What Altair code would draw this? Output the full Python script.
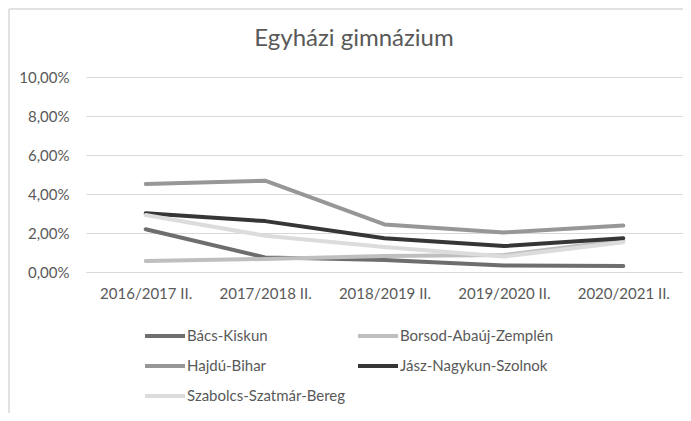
import altair as alt
import pandas as pd

categories = ["2016/2017 II.", "2017/2018 II.", "2018/2019 II.", "2019/2020 II.", "2020/2021 II."]
series_names = ["Bács-Kiskun", "Borsod-Abaúj-Zemplén", "Hajdú-Bihar",
                "Jász-Nagykun-Szolnok", "Szabolcs-Szatmár-Bereg"]
bacs = [0.0219, 0.0075, 0.0062, 0.0033, 0.0031]
borsod = [0.0056, 0.0067, 0.0082, 0.0087, 0.0163]
hajdu = [0.0451, 0.0468, 0.0244, 0.0203, 0.0238]
jasz = [0.0301, 0.0261, 0.0173, 0.0133, 0.0173]
szabolcs = [0.0292, 0.0186, 0.0128, 0.0079, 0.0152]
colors = ["#6e6e6e", "#bfbfbf", "#979797", "#363636", "#dcdcdc"]
title_text = "Egyházi gimnázium"

rows = []
for name, vals in zip(series_names, [bacs, borsod, hajdu, jasz, szabolcs]):
    for c, v in zip(categories, vals):
        rows.append({"Megye": name, "Tanév": c, "Arány": v, "ord": series_names.index(name)})
df = pd.DataFrame(rows)

FONT = "Lato"
TXT = "#595959"
GRID = "#d9d9d9"
W, H = 597, 195
PAD = {"left": 78, "top": 69, "right": 0, "bottom": 141}

lines = alt.Chart(df).mark_line(strokeWidth=4, strokeCap="round", strokeJoin="round").encode(
    x=alt.X("Tanév:N", sort=categories, scale=alt.Scale(padding=0.5),
            axis=alt.Axis(title=None, labelAngle=0, ticks=False, domain=True, domainColor=GRID,
                          labelFont=FONT, labelFontSize=15, labelColor=TXT, labelPadding=14)),
    y=alt.Y("Arány:Q", scale=alt.Scale(domain=[0, 0.1], nice=False),
            axis=alt.Axis(title=None, values=[0, 0.02, 0.04, 0.06, 0.08, 0.1],
                          labelExpr="replace(format(datum.value, '.2%'), '.', ',')",
                          grid=True, gridColor=GRID, domain=False, ticks=False,
                          labelFont=FONT, labelFontSize=15, labelColor=TXT, labelPadding=17)),
    color=alt.Color("Megye:N", sort=series_names,
                    scale=alt.Scale(domain=series_names, range=colors),
                    legend=alt.Legend(title=None, orient="none", legendX=57, legendY=237,
                                      columns=2, direction="horizontal",
                                      symbolType="stroke", symbolSize=1600, symbolStrokeWidth=4,
                                      labelFont=FONT, labelFontSize=15, labelColor=TXT,
                                      labelOffset=0, rowPadding=-6, columnPadding=4)),
    order=alt.Order("ord:Q"),
)

title = alt.Chart(alt.Data(values=[{"t": title_text}])).mark_text(
    font=FONT, fontSize=24, color=TXT, align="center", baseline="alphabetic"
).encode(text="t:N", x=alt.value(268), y=alt.value(-31))

border_data = alt.Data(values=[{"k": 0}])
left_border = alt.Chart(border_data).mark_rule(color=GRID, strokeWidth=1.5).encode(
    x=alt.value(-77), y=alt.value(-68), y2=alt.value(H + 141))
top_border = alt.Chart(border_data).mark_rule(color=GRID, strokeWidth=1.5).encode(
    x=alt.value(-77), x2=alt.value(W), y=alt.value(-68))

chart = alt.layer(left_border, top_border, title, lines).properties(
    width=W, height=H,
    autosize=alt.AutoSizeParams(type="none"),
    padding=PAD,
).configure_view(stroke=None)

chart.save("out.html", embed_options={"renderer": "svg", "actions": False})
